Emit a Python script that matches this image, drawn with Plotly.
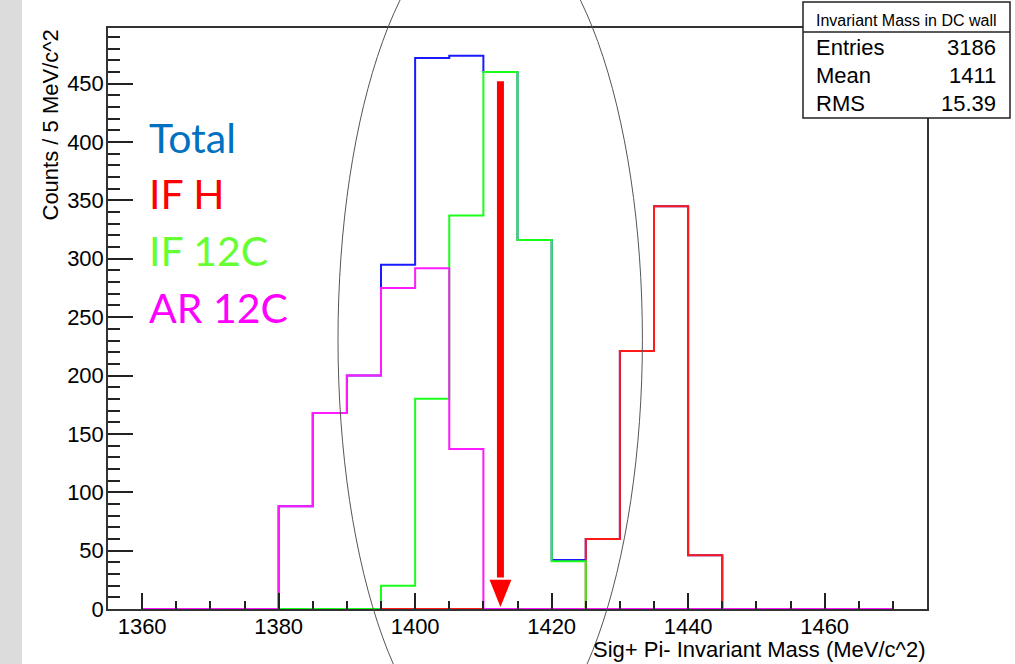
import plotly.graph_objects as go

# Histogram binning (5 MeV/c^2 bins, low edges)
bin_edges = [1360, 1365, 1370, 1375, 1380, 1385, 1390, 1395, 1400, 1405, 1410,
             1415, 1420, 1425, 1430, 1435, 1440, 1445, 1450, 1455, 1460, 1465, 1470]

# Counts per bin for each contribution
total_counts = [0, 0, 0, 0, 88, 168, 200, 295, 472, 474, 460, 316, 42, 60, 221, 345, 46, 0, 0, 0, 0, 0]
if_h_counts = [0, 0, 0, 0, 0, 0, 0, 0, 0, 0, 0, 0, 0, 60, 221, 345, 46, 0, 0, 0, 0, 0]
if_12c_counts = [0, 0, 0, 0, 0, 0, 0, 20, 180, 337, 460, 316, 41, 0, 0, 0, 0, 0, 0, 0, 0, 0]
ar_12c_counts = [0, 0, 0, 0, 88, 168, 200, 275, 292, 137, 0, 0, 0, 0, 0, 0, 0, 0, 0, 0, 0, 0]

series_names = ["Total", "IF H", "IF 12C", "AR 12C"]
line_colors = ["#1a1aff", "#ff1a1a", "#1aff1a", "#ff1aff"]
label_colors = ["#0070c0", "#ff0000", "#66ff33", "#ff00ff"]

# Statistics box
stats_title = "Invariant Mass in DC wall"
stats_labels = ["Entries", "Mean", "RMS"]
stats_values = ["3186", "1411", "15.39"]

# Axis setup
x_range = [1355, 1475]
y_range = [0, 497.7]
x_ticks = [1360, 1380, 1400, 1420, 1440, 1460]
y_ticks = [0, 50, 100, 150, 200, 250, 300, 350, 400, 450]
x_title = "Sig+ Pi- Invariant Mass (MeV/c^2)"
y_title = "Counts / 5 MeV/c^2"

# Highlight marks: ellipse around the peak region and an arrow at the mean
ellipse_center = (1411.0, 231.0)
ellipse_half = (22.3, 360.7)
arrow_x = 1412.5
arrow_top = 452.0
arrow_head_base = 25.0
arrow_tip = 1.7
arrow_head_half = 1.6

W, H = 1015, 664
ML, MR, MT, MB = 108, 88, 28, 55
PW, PH = W - ML - MR, H - MT - MB


def px_x(px):
    return (px - ML) / PW


def px_y(py):
    return (H - MB - py) / PH


def data_x_to_paper(v):
    return (v - x_range[0]) / (x_range[1] - x_range[0])


def data_y_to_paper(v):
    return (v - y_range[0]) / (y_range[1] - y_range[0])


fig = go.Figure()

series = [total_counts, if_h_counts, if_12c_counts, ar_12c_counts]
for name, counts, color in zip(series_names, series, line_colors):
    xs = bin_edges[:-1] + [bin_edges[-1]]
    ys = counts + [counts[-1]]
    fig.add_trace(go.Scatter(
        x=xs, y=ys, mode="lines", name=name,
        line=dict(color=color, width=2, shape="hv"),
        hoverinfo="skip", showlegend=False,
    ))

font_axis = dict(family="Liberation Sans, Arial, sans-serif", size=22, color="black")

fig.update_xaxes(
    range=x_range, tickvals=x_ticks, ticks="inside", ticklen=16, tickwidth=1.5,
    tickcolor="#222", showgrid=False, zeroline=False, showline=True, mirror=True,
    linecolor="#333", linewidth=1.5, tickfont=font_axis, ticklabelstandoff=-3,
    minor=dict(dtick=5, ticks="inside", ticklen=8, tickwidth=1.5, tickcolor="#222", showgrid=False),
)
fig.update_yaxes(
    range=y_range, tickvals=y_ticks, ticks="inside", ticklen=25, tickwidth=1.5,
    tickcolor="#222", showgrid=False, zeroline=False, showline=True, mirror=True,
    linecolor="#333", linewidth=1.5, tickfont=font_axis, ticklabelstandoff=-2,
    minor=dict(dtick=10, ticks="inside", ticklen=12, tickwidth=1.5, tickcolor="#222", showgrid=False),
)

shapes = []
# shaded page strip on the left edge
shapes.append(dict(type="rect", xref="paper", yref="paper", layer="below",
                   x0=px_x(-5), x1=px_x(22), y0=px_y(H + 5), y1=px_y(-5),
                   fillcolor="#dcdcdc", line=dict(width=0)))

# ellipse around the signal region
cx, cy = ellipse_center
hx, hy = ellipse_half
shapes.append(dict(type="circle", xref="paper", yref="paper", layer="above",
                   x0=data_x_to_paper(cx - hx), x1=data_x_to_paper(cx + hx),
                   y0=data_y_to_paper(cy - hy), y1=data_y_to_paper(cy + hy),
                   line=dict(color="#555555", width=1)))

# arrow marking the mean
shapes.append(dict(type="line", xref="x", yref="y", x0=arrow_x, x1=arrow_x,
                   y0=arrow_head_base + 2, y1=arrow_top, line=dict(color="#ff0000", width=7)))
shapes.append(dict(type="path", xref="x", yref="y", fillcolor="#ff0000", line=dict(width=0),
                   path=f"M {arrow_x - arrow_head_half},{arrow_head_base} "
                        f"L {arrow_x + arrow_head_half},{arrow_head_base} "
                        f"L {arrow_x},{arrow_tip} Z"))

# statistics box
bx0, bx1, by0, by1, bdiv = 803, 1010, 2, 118, 32
shapes.append(dict(type="rect", xref="paper", yref="paper", layer="above",
                   x0=px_x(bx0), x1=px_x(bx1), y0=px_y(by1), y1=px_y(by0),
                   fillcolor="white", line=dict(color="#222", width=1.5)))
shapes.append(dict(type="line", xref="paper", yref="paper", layer="above",
                   x0=px_x(bx0), x1=px_x(bx1), y0=px_y(bdiv), y1=px_y(bdiv),
                   line=dict(color="#222", width=1.5)))

annotations = []
# coloured series labels
label_font = "Lato, Carlito, Calibri, sans-serif"
label_size = 41
for i, (name, color) in enumerate(zip(series_names, label_colors)):
    baseline = 153 + i * 56.7
    annotations.append(dict(
        xref="paper", yref="paper", x=px_x(147), y=px_y(baseline - 0.387 * label_size),
        xanchor="left", yanchor="middle", showarrow=False, text=name,
        font=dict(family=label_font, size=label_size, color=color)))

stat_font = "Liberation Sans, Arial, sans-serif"
annotations.append(dict(
    xref="paper", yref="paper", x=px_x((bx0 + bx1) / 2), y=px_y(26 - 0.3465 * 16),
    xanchor="center", yanchor="middle", showarrow=False, text=stats_title,
    font=dict(family=stat_font, size=16, color="black")))
for i, (lab, val) in enumerate(zip(stats_labels, stats_values)):
    baseline = 55 + i * 28
    annotations.append(dict(
        xref="paper", yref="paper", x=px_x(814), y=px_y(baseline - 0.3465 * 22),
        xanchor="left", yanchor="middle", showarrow=False, text=lab,
        font=dict(family=stat_font, size=22, color="black")))
    annotations.append(dict(
        xref="paper", yref="paper", x=px_x(998), y=px_y(baseline - 0.3465 * 22),
        xanchor="right", yanchor="middle", showarrow=False, text=val,
        font=dict(family=stat_font, size=22, color="black")))

# axis titles
annotations.append(dict(
    xref="paper", yref="paper", x=1.0, y=px_y(657 - 0.3465 * 22),
    xanchor="right", yanchor="middle", showarrow=False, text=x_title,
    font=dict(family=stat_font, size=22, color="black")))
annotations.append(dict(
    xref="paper", yref="paper", x=px_x(50), y=px_y(28), textangle=-90,
    xanchor="center", yanchor="top", showarrow=False, text=y_title,
    font=dict(family=stat_font, size=22, color="black")))

fig.update_layout(
    width=W, height=H,
    margin=dict(l=ML, r=MR, t=MT, b=MB, pad=0),
    paper_bgcolor="white", plot_bgcolor="white",
    shapes=shapes, annotations=annotations,
)

fig.write_html("out.html", config={"displayModeBar": False})
